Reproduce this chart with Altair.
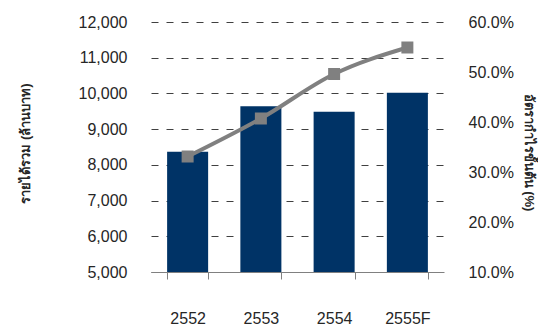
import altair as alt
import pandas as pd

years = ["2552", "2553", "2554", "2555F"]
revenue = [8370, 9640, 9490, 10020]
margin = [0.331, 0.407, 0.496, 0.549]

df = pd.DataFrame({"year": years, "revenue": revenue, "margin": margin})

FONT = "Liberation Sans"
TXT = "#262626"

x = alt.X("year:N", sort=years, title=None,
          scale=alt.Scale(paddingInner=0.44, paddingOuter=0.22),
          axis=alt.Axis(labelAngle=0, tickBand="extent", tickSize=7,
                        domainColor="#808080", tickColor="#808080",
                        labelPadding=31, labelFontSize=16, labelFont=FONT,
                        labelColor=TXT, grid=False, zindex=1))

bars = alt.Chart(df).mark_bar(color="#003366", clip=True).encode(
    x=x,
    y=alt.Y("revenue:Q", title="รายได้รวม (ล้านบาท)",
            scale=alt.Scale(domain=[5000, 12000], nice=False, zero=False),
            axis=alt.Axis(format=",.0f", values=[5000, 6000, 7000, 8000, 9000, 10000, 11000, 12000],
                          domain=False, ticks=False, labelPadding=24,
                          labelFontSize=16, labelFont=FONT, labelColor=TXT,
                          grid=True, gridColor="#404040", gridDash=[7, 8], gridWidth=1,
                          titleX=-126, titleY=121, titleAngle=-90, titleAlign="center",
                          titleBaseline="middle", titleFontSize=13, titleFontWeight="bold",
                          titleColor=TXT)),
)

base = alt.Chart(df).encode(
    x=alt.X("year:N", sort=years),
    y=alt.Y("margin:Q", title="อัตรากำไรขั้นต้น (%)",
            scale=alt.Scale(domain=[0.1, 0.6], nice=False, zero=False),
            axis=alt.Axis(format=".1%", values=[0.1, 0.2, 0.3, 0.4, 0.5, 0.6],
                          orient="right", domain=False, ticks=False, labelPadding=24,
                          labelFontSize=16, labelFont=FONT, labelColor=TXT, grid=False,
                          titleX=84, titleY=130, titleAngle=90, titleAlign="center",
                          titleBaseline="middle", titleFontSize=13, titleFontWeight="bold",
                          titleColor=TXT)),
)

line = base.mark_line(color="#808080", strokeWidth=4, interpolate="monotone")
points = base.mark_point(shape="square", filled=True, color="#808080", size=144, opacity=1)

chart = alt.layer(bars, alt.layer(line, points)).resolve_scale(y="independent").properties(
    width=293, height=250,
    autosize=alt.AutoSizeParams(type="none"),
    padding={"left": 143, "top": 14, "right": 94, "bottom": 54},
).configure_view(stroke=None)

chart.save("out.html", embed_options={"renderer": "svg", "actions": False})
